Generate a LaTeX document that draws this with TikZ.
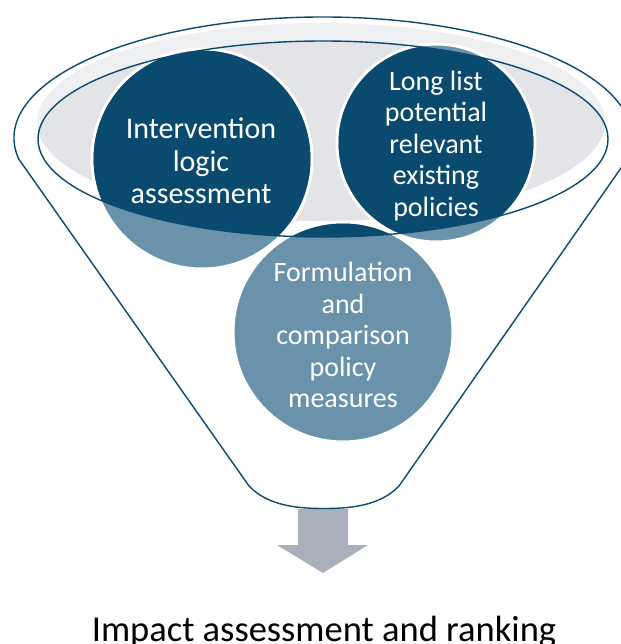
\documentclass[tikz,border=0pt]{standalone}
\usepackage{fontspec}
\setmainfont{Carlito}
\definecolor{navy}{HTML}{0A4A6E}
\definecolor{steel}{HTML}{6A93AB}
\definecolor{greyA}{HTML}{EEEFF1}
\definecolor{greyB}{HTML}{E3E4E8}
\definecolor{arrowgrey}{HTML}{AAB0BB}
\definecolor{funnelline}{HTML}{0B4A6F}
\tikzset{
  circtext/.style={text=white, align=center, inner sep=0pt, font=\fontsize{28}{31.5}\selectfont},
  bigcirctext/.style={circtext, font=\fontsize{30}{32.5}\selectfont},
  funnel/.style={draw=funnelline, line width=1.4pt, line join=round},
  ring/.style={fill=steel, draw=white, line width=3pt},
}
\begin{document}
\begin{tikzpicture}[x=1pt,y=-1pt]
\useasboundingbox (0,0) rectangle (620,644);
% grey opening
\fill[greyA] (321,122) ellipse[x radius=284pt, y radius=99pt];
\begin{scope}
  \clip (323,139) ellipse[x radius=285pt, y radius=98pt];
  \fill[greyB] (321,122) ellipse[x radius=284pt, y radius=99pt];
\end{scope}
% circles
\foreach \cx/\cy/\r in {202/159/110, 436/143/99, 343/332/110}{
  \path[ring] (\cx,\cy) circle[radius=\r pt];
  \begin{scope}
    \clip (323,139) ellipse[x radius=285pt, y radius=98pt];
    \fill[navy] (\cx,\cy) circle[radius=\r pt-1.5pt];
  \end{scope}
}
% arrow
\fill[arrowgrey] (298,509) -- (348,509) -- (348,545) -- (368,545) -- (323,573) -- (277,545) -- (298,545) -- cycle;
% outlines
\draw[funnel] (323,139) ellipse[x radius=285pt, y radius=98pt];
\draw[funnel] (18.7,159) arc[start angle=190, end angle=-10, x radius=309pt, y radius=121pt]
  -- (399,486) .. controls (380,506) and (350,508.5) .. (324,508.5)
  .. controls (298,508.5) and (268,506) .. (249,486) -- cycle;
% texts
\node[bigcirctext] (ila) at (201,161) {Intervention\\logic\\assessment};
\node[circtext] (llp) at (436,146) {Long list\\potential\\relevant\\existing\\policies};
\node[circtext] (fcp) at (343,335) {Formulation\\and\\comparison\\policy\\measures};
\node[font=\fontsize{36.5}{40}\selectfont, anchor=base] (out) at (324,641) {Impact assessment and ranking};
\end{tikzpicture}
\end{document}
